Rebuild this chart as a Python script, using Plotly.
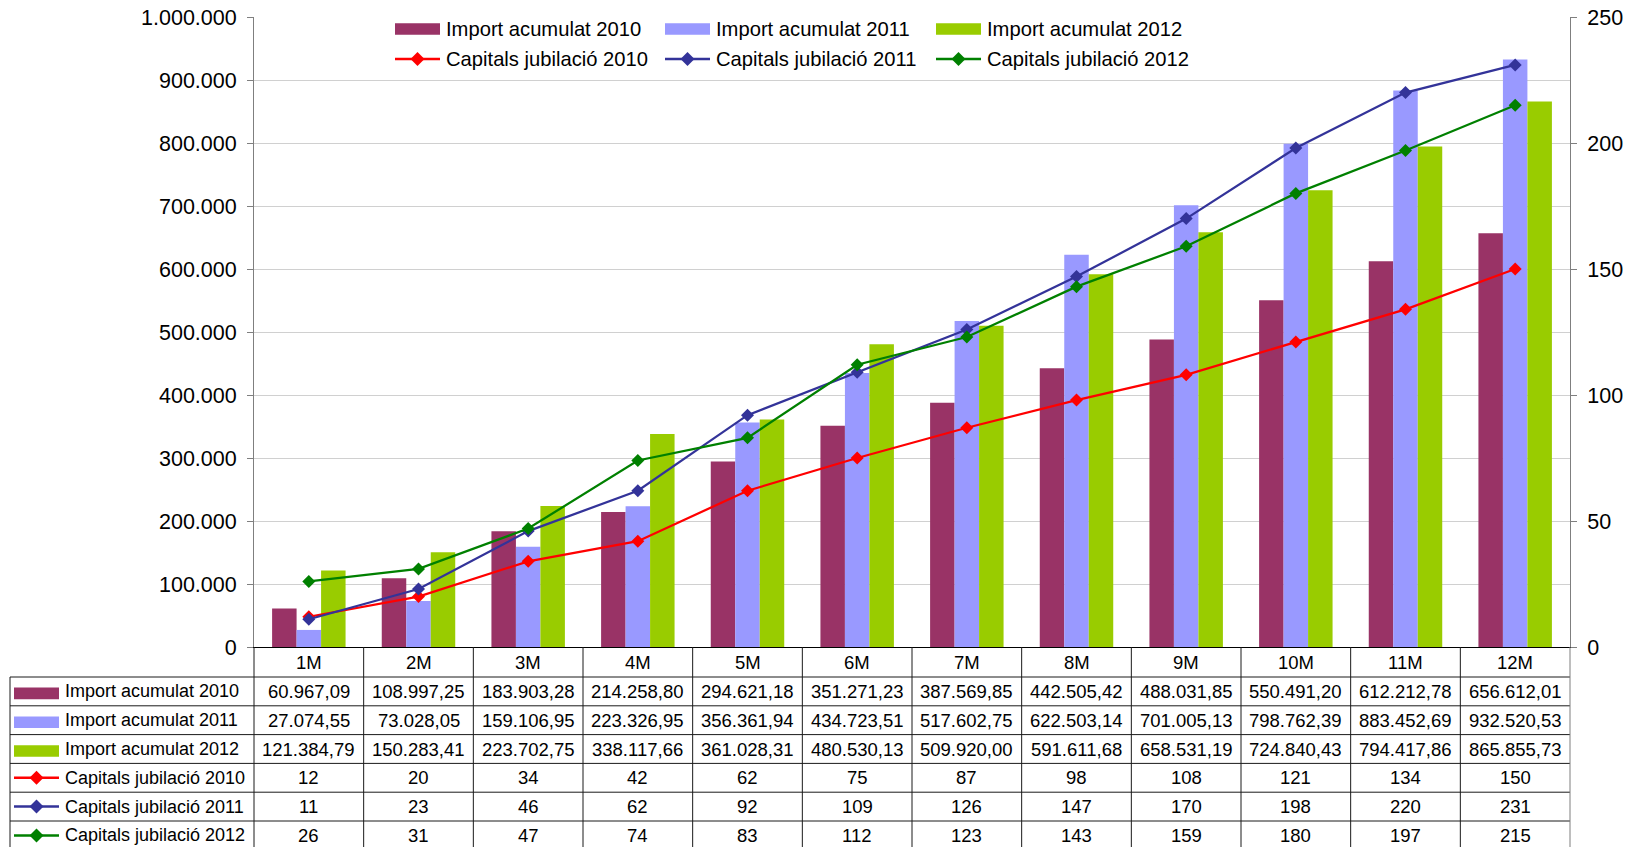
import plotly.graph_objects as go

# ---- data ----
months = ["1M", "2M", "3M", "4M", "5M", "6M", "7M", "8M", "9M", "10M", "11M", "12M"]

import_2010 = [60967.09, 108997.25, 183903.28, 214258.80, 294621.18, 351271.23,
               387569.85, 442505.42, 488031.85, 550491.20, 612212.78, 656612.01]
import_2011 = [27074.55, 73028.05, 159106.95, 223326.95, 356361.94, 434723.51,
               517602.75, 622503.14, 701005.13, 798762.39, 883452.69, 932520.53]
import_2012 = [121384.79, 150283.41, 223702.75, 338117.66, 361028.31, 480530.13,
               509920.00, 591611.68, 658531.19, 724840.43, 794417.86, 865855.73]

capitals_2010 = [12, 20, 34, 42, 62, 75, 87, 98, 108, 121, 134, 150]
capitals_2011 = [11, 23, 46, 62, 92, 109, 126, 147, 170, 198, 220, 231]
capitals_2012 = [26, 31, 47, 74, 83, 112, 123, 143, 159, 180, 197, 215]

series = [
    ("Import acumulat 2010", import_2010, "bar", "#993366"),
    ("Import acumulat 2011", import_2011, "bar", "#9999FF"),
    ("Import acumulat 2012", import_2012, "bar", "#99CC00"),
    ("Capitals jubilació 2010", capitals_2010, "line", "#FF0000"),
    ("Capitals jubilació 2011", capitals_2011, "line", "#333399"),
    ("Capitals jubilació 2012", capitals_2012, "line", "#008000"),
]

# ---- page geometry (pixels) ----
W, H = 1629, 847
L, R, T, B = 254, 1570, 17, 647
PW, PH = R - L, B - T
FONT = "Liberation Sans, Arial, sans-serif"


def px(x):
    return (x - L) / PW


def py(y):
    return (B - y) / PH


def fmt_amount(v):
    s = f"{v:,.2f}"
    return s.replace(",", "#").replace(".", ",").replace("#", ".")


fig = go.Figure()

for name, vals, kind, color in series:
    if kind == "bar":
        fig.add_trace(go.Bar(x=months, y=vals, name=name, marker_color=color,
                             marker_line_width=0, yaxis="y", showlegend=False))
for name, vals, kind, color in series:
    if kind == "line":
        fig.add_trace(go.Scatter(x=months, y=vals, name=name, yaxis="y2",
                                 mode="lines+markers", showlegend=False,
                                 line=dict(color=color, width=2.25),
                                 marker=dict(symbol="diamond", size=10, color=color)))

shapes = []
annotations = []


def add_key(kind, color, x0, x1, yc):
    """Legend key: filled swatch for bars, line with diamond for lines."""
    if kind == "bar":
        shapes.append(dict(type="rect", xref="paper", yref="paper",
                           x0=px(x0), x1=px(x1), y0=py(yc + 5.8), y1=py(yc - 5.8),
                           fillcolor=color, line=dict(width=0)))
    else:
        shapes.append(dict(type="line", xref="paper", yref="paper",
                           x0=px(x0), x1=px(x1), y0=py(yc), y1=py(yc),
                           line=dict(color=color, width=2.5)))
        xc = (x0 + x1) / 2
        d = 7
        path = (f"M{px(xc - d)},{py(yc)} L{px(xc)},{py(yc - d)} "
                f"L{px(xc + d)},{py(yc)} L{px(xc)},{py(yc + d)} Z")
        shapes.append(dict(type="path", xref="paper", yref="paper", path=path,
                           fillcolor=color, line=dict(width=0)))


# ---- legend at the top: three columns, bars on the first row, lines on the second ----
leg_cols = [395, 665, 936]
leg_rows = {"bar": 29, "line": 59}
bar_i = line_i = 0
for name, vals, kind, color in series:
    if kind == "bar":
        col = leg_cols[bar_i]
        bar_i += 1
    else:
        col = leg_cols[line_i]
        line_i += 1
    yc = leg_rows[kind]
    add_key(kind, color, col, col + 45, yc)
    annotations.append(dict(xref="paper", yref="paper", x=px(col + 49), y=py(yc),
                            xanchor="left", yanchor="middle", showarrow=False,
                            text=name, font=dict(family=FONT, size=20.2, color="black")))

# ---- data table below the plot ----
TABLE_LEFT = 10
HEADER_BOTTOM = 677
ROW_H = 28.8
LABEL_SIZE = 18
TEXT_SIZE = 18.5
LINE_COLOR = "#1a1a1a"

# header labels
for m in months:
    annotations.append(dict(xref="x", yref="paper", x=m, y=py((B + HEADER_BOTTOM) / 2),
                            xanchor="center", yanchor="middle", showarrow=False, text=m,
                            font=dict(family=FONT, size=TEXT_SIZE, color="black")))

# rows
for r, (name, vals, kind, color) in enumerate(series):
    top = HEADER_BOTTOM + r * ROW_H
    yc = top + ROW_H / 2
    add_key(kind, color, 14, 59, yc + (2 if kind == "bar" else 0))
    annotations.append(dict(xref="paper", yref="paper", x=px(63), y=py(yc),
                            xanchor="left", yanchor="middle", showarrow=False, text=name,
                            font=dict(family=FONT, size=LABEL_SIZE, color="black")))
    for m, v in zip(months, vals):
        txt = fmt_amount(v) if kind == "bar" else str(v)
        annotations.append(dict(xref="x", yref="paper", x=m, y=py(yc),
                                xanchor="center", yanchor="middle", showarrow=False,
                                text=txt,
                                font=dict(family=FONT, size=TEXT_SIZE, color="black")))
    # horizontal rule on top of each row
    shapes.append(dict(type="line", xref="paper", yref="paper",
                       x0=px(TABLE_LEFT), x1=1, y0=py(top), y1=py(top),
                       line=dict(color=LINE_COLOR, width=1)))

# vertical rules
shapes.append(dict(type="line", xref="paper", yref="paper", x0=px(TABLE_LEFT), x1=px(TABLE_LEFT),
                   y0=py(HEADER_BOTTOM), y1=py(H + 5), line=dict(color=LINE_COLOR, width=1)))
shapes.append(dict(type="line", xref="paper", yref="paper", x0=0, x1=0,
                   y0=0, y1=py(H + 5), line=dict(color=LINE_COLOR, width=1)))
for i in range(len(months) - 1):
    shapes.append(dict(type="line", xref="x", yref="paper", x0=i + 0.5, x1=i + 0.5,
                       y0=0, y1=py(H + 5), line=dict(color=LINE_COLOR, width=1)))
shapes.append(dict(type="line", xref="paper", yref="paper", x0=1, x1=1,
                   y0=0, y1=py(H + 5), line=dict(color="#7f7f7f", width=1)))

axis_common = dict(showline=True, linecolor="#7f7f7f", linewidth=1, ticks="outside",
                   ticklen=6, tickcolor="#7f7f7f", zeroline=False, automargin=False,
                   tickfont=dict(family=FONT, size=21.5, color="black"),
                   ticklabelstandoff=6)

fig.update_layout(
    width=W, height=H,
    margin=dict(l=L, r=W - R, t=T, b=H - B, pad=0, autoexpand=False),
    paper_bgcolor="white", plot_bgcolor="white",
    separators=",.",
    barmode="group", bargap=0.33, bargroupgap=0,
    showlegend=False,
    xaxis=dict(type="category", range=[-0.5, len(months) - 0.5], showticklabels=False,
               showline=True, linecolor="black", linewidth=1, ticks="", showgrid=False,
               zeroline=False, automargin=False),
    yaxis=dict(range=[0, 1000000], dtick=100000, tickformat=",d", showgrid=True,
               gridcolor="#d0d0d0", gridwidth=1, **axis_common),
    yaxis2=dict(range=[0, 250], dtick=50, overlaying="y", side="right", showgrid=False,
                **axis_common),
    shapes=shapes,
    annotations=annotations,
)

fig.write_html("out.html")
